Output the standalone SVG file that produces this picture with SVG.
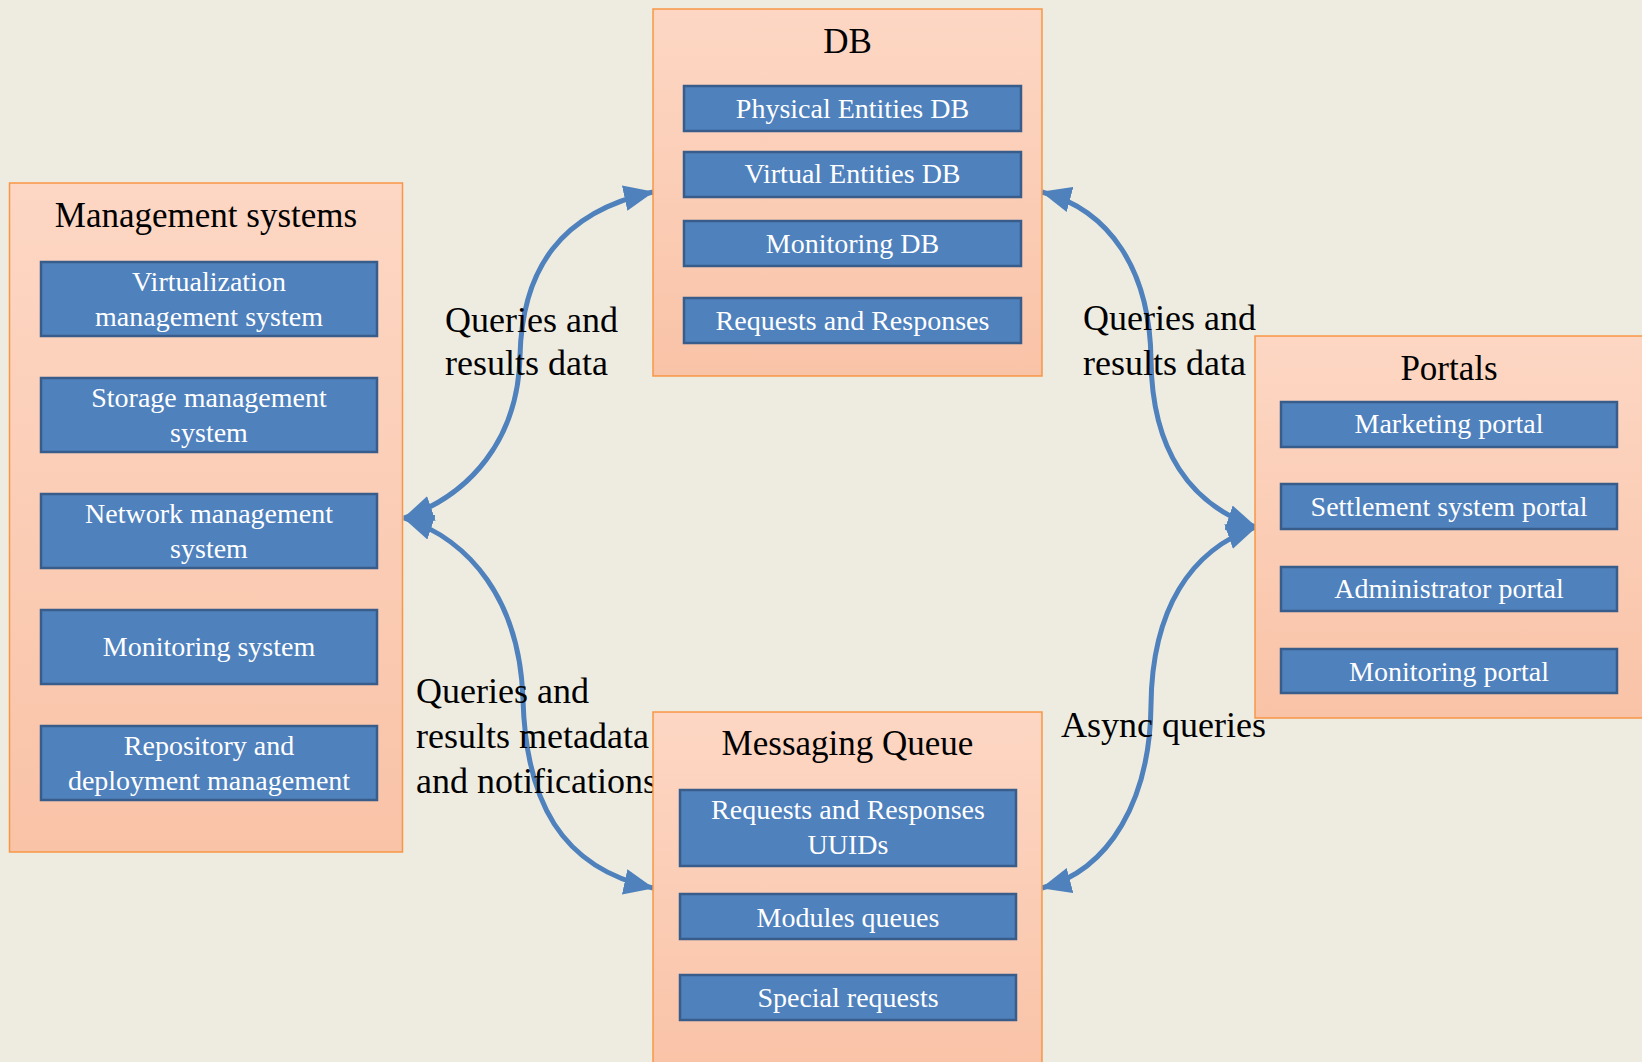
<svg xmlns="http://www.w3.org/2000/svg" width="1642" height="1062" viewBox="0 0 1642 1062">
  <style>
    .group { stroke: #f79646; stroke-width: 1.5; fill: url(#peach); }
    .item { fill: #4f81bd; stroke: #385d8a; stroke-width: 2.5; }
    .title { font-family: "Liberation Serif", "Times New Roman", serif; font-size: 35px; fill: #000; text-anchor: middle; }
    .itext { font-family: "Liberation Serif", "Times New Roman", serif; font-size: 28px; fill: #fff; text-anchor: middle; }
    .label { font-family: "Liberation Serif", "Times New Roman", serif; font-size: 36px; fill: #000; }
    .link { fill: none; stroke: #4f81bd; stroke-width: 5; marker-start: url(#head); marker-end: url(#head); }
  </style>
  <defs>
    <linearGradient id="peach" x1="0" y1="0" x2="0" y2="1">
      <stop offset="0" stop-color="#fdd7c4"/>
      <stop offset="1" stop-color="#f9c3a7"/>
    </linearGradient>
    <marker id="head" viewBox="0 0 30 26" refX="29" refY="13" markerWidth="30" markerHeight="26" markerUnits="userSpaceOnUse" orient="auto-start-reverse">
      <path d="M0,0 L30,13 L0,26 z" fill="#4f81bd"/>
    </marker>
  </defs>

  <rect x="0" y="0" width="1642" height="1062" fill="#eeece1"/>

  <!-- connectors -->
  <g id="connectors">
    <path class="link" d="M 404,518 C 470,495 518,440 520,356 C 522,270 560,212 653,192"/>
    <path class="link" d="M 404,518 C 470,540 520,600 523,700 C 526,800 560,868 653,888"/>
    <path class="link" d="M 1042,192 C 1110,210 1150,270 1151,360 C 1152,450 1190,505 1256,527"/>
    <path class="link" d="M 1256,527 C 1190,550 1152,610 1151,705 C 1150,800 1110,870 1042,888"/>
  </g>

  <!-- connector labels -->
  <g id="labels">
    <text class="label" x="445" y="332">Queries and</text>
    <text class="label" x="445" y="375">results data</text>
    <text class="label" x="1083" y="330">Queries and</text>
    <text class="label" x="1083" y="375">results data</text>
    <text class="label" x="416" y="703">Queries and</text>
    <text class="label" x="416" y="748">results metadata</text>
    <text class="label" x="416" y="793">and notifications</text>
    <text class="label" x="1061" y="737">Async queries</text>
  </g>

  <!-- Management systems -->
  <g id="management">
    <rect class="group" x="9.5" y="183" width="393" height="669"/>
    <text class="title" x="206" y="227">Management systems</text>
    <rect class="item" x="41" y="262" width="336" height="74"/>
    <text class="itext" x="209" y="291">Virtualization</text>
    <text class="itext" x="209" y="326">management system</text>
    <rect class="item" x="41" y="378" width="336" height="74"/>
    <text class="itext" x="209" y="407">Storage management</text>
    <text class="itext" x="209" y="442">system</text>
    <rect class="item" x="41" y="494" width="336" height="74"/>
    <text class="itext" x="209" y="523">Network management</text>
    <text class="itext" x="209" y="558">system</text>
    <rect class="item" x="41" y="610" width="336" height="74"/>
    <text class="itext" x="209" y="656">Monitoring system</text>
    <rect class="item" x="41" y="726" width="336" height="74"/>
    <text class="itext" x="209" y="755">Repository and</text>
    <text class="itext" x="209" y="790">deployment management</text>
  </g>

  <!-- DB -->
  <g id="db">
    <rect class="group" x="653" y="9" width="389" height="367"/>
    <text class="title" x="847.5" y="53">DB</text>
    <rect class="item" x="684" y="86" width="337" height="45"/>
    <text class="itext" x="852.5" y="118">Physical Entities DB</text>
    <rect class="item" x="684" y="152" width="337" height="45"/>
    <text class="itext" x="852.5" y="183">Virtual Entities DB</text>
    <rect class="item" x="684" y="221" width="337" height="45"/>
    <text class="itext" x="852.5" y="253">Monitoring DB</text>
    <rect class="item" x="684" y="298" width="337" height="45"/>
    <text class="itext" x="852.5" y="330">Requests and Responses</text>
  </g>

  <!-- Portals -->
  <g id="portals">
    <rect class="group" x="1255" y="336" width="390" height="382"/>
    <text class="title" x="1449" y="380">Portals</text>
    <rect class="item" x="1281" y="402" width="336" height="45"/>
    <text class="itext" x="1449" y="433">Marketing portal</text>
    <rect class="item" x="1281" y="484" width="336" height="45"/>
    <text class="itext" x="1449" y="516">Settlement system portal</text>
    <rect class="item" x="1281" y="567" width="336" height="44"/>
    <text class="itext" x="1449" y="598">Administrator portal</text>
    <rect class="item" x="1281" y="649" width="336" height="44"/>
    <text class="itext" x="1449" y="681">Monitoring portal</text>
  </g>

  <!-- Messaging Queue -->
  <g id="queue">
    <rect class="group" x="653" y="712" width="389" height="360"/>
    <text class="title" x="847.5" y="755">Messaging Queue</text>
    <rect class="item" x="680" y="790" width="336" height="76"/>
    <text class="itext" x="848" y="819">Requests and Responses</text>
    <text class="itext" x="848" y="854">UUIDs</text>
    <rect class="item" x="680" y="894" width="336" height="45"/>
    <text class="itext" x="848" y="927">Modules queues</text>
    <rect class="item" x="680" y="975" width="336" height="45"/>
    <text class="itext" x="848" y="1007">Special requests</text>
  </g>
</svg>
